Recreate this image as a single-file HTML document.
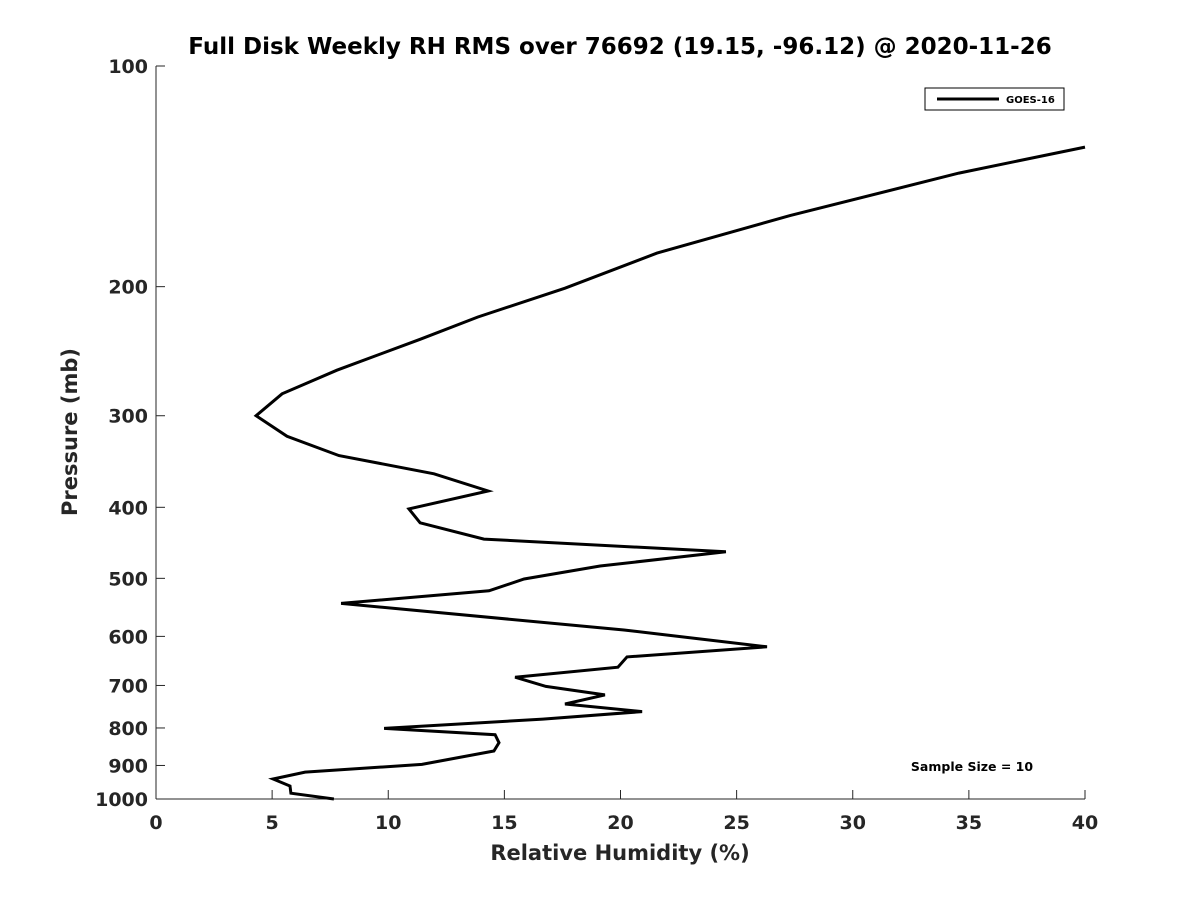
<!DOCTYPE html>
<html><head><meta charset="utf-8"><style>
body{margin:0;background:#fff;width:1200px;height:900px;overflow:hidden}
text{font-family:"DejaVu Sans","Liberation Sans",sans-serif;font-weight:bold}
</style></head><body>
<svg id="chart" width="1200" height="900" xmlns="http://www.w3.org/2000/svg">
<rect width="1200" height="900" fill="#fff"/>
<text x="620" y="54" text-anchor="middle" font-size="23" fill="#000">Full Disk Weekly RH RMS over 76692 (19.15, -96.12) @ 2020-11-26</text>
<g id="axes"></g>
<polyline id="series" fill="none" stroke="#000" stroke-width="3" stroke-linejoin="miter"/>
<g>
<rect x="925" y="88" width="139" height="22" fill="#fff" stroke="#000" stroke-width="1"/>
<line x1="937" y1="99" x2="999" y2="99" stroke="#000" stroke-width="3"/>
<text x="1006" y="103" font-size="10" fill="#000">GOES-16</text>
</g>
<text x="972" y="771" text-anchor="middle" font-size="12.5" fill="#000">Sample Size = 10</text>
<text x="620" y="860" text-anchor="middle" font-size="21" fill="#262626">Relative Humidity (%)</text>
<text transform="translate(77,432) rotate(-90)" text-anchor="middle" font-size="21" fill="#262626">Pressure (mb)</text>
</svg>
<script>
const rhValues=[40.0,34.57,27.3,21.57,17.61,13.86,11.37,7.79,5.43,4.31,5.64,7.88,11.97,14.30,10.89,11.37,14.12,24.54,19.12,15.85,14.34,7.97,20.15,26.31,20.28,19.89,15.46,16.79,19.33,17.61,20.93,16.66,9.82,14.60,14.77,14.55,11.45,6.42,5.04,5.77,5.81,7.66];
const pressures=[129,140,160,180,201,220,236,260,280,300,320,340,360,380,402,420,442,460,481,501,520,541,588,620,640,661,682,702,721,742,760,778,801,817,838,860,897,919,939,960,982,1000];
const xTicks=[0,5,10,15,20,25,30,35,40];
const yTicks=[100,200,300,400,500,600,700,800,900,1000];
const X0=156,X1=1085,Y0=66,Y1=799;
function xs(v){return X0+(v-0)/(40-0)*(X1-X0);}
function ys(p){return Y0+Math.log10(p/100)*(Y1-Y0);}
const NS="http://www.w3.org/2000/svg";
const ax=document.getElementById('axes');
function mk(t,a){const e=document.createElementNS(NS,t);for(const k in a)e.setAttribute(k,a[k]);ax.appendChild(e);return e;}
let l=mk('line',{x1:X0,y1:Y0,x2:X0,y2:Y1,stroke:'#262626','stroke-width':1});


l=mk('line',{x1:X0,y1:Y1,x2:X1,y2:Y1,stroke:'#262626','stroke-width':1});


xTicks.forEach(v=>{const x=xs(v);
 mk('line',{x1:x,y1:Y1,x2:x,y2:Y1-9,stroke:'#262626','stroke-width':1});
 const t=mk('text',{x:x,y:829,'text-anchor':'middle','font-size':19,fill:'#262626'});t.textContent=v;
 
 
});
yTicks.forEach(p=>{const y=ys(p);
 mk('line',{x1:X0,y1:y,x2:X0+9,y2:y,stroke:'#262626','stroke-width':1});
 const t=mk('text',{x:148,y:y+7,'text-anchor':'end','font-size':19,fill:'#262626'});t.textContent=p;
 
 
});
document.getElementById('series').setAttribute('points',rhValues.map((v,i)=>xs(v).toFixed(1)+','+ys(pressures[i]).toFixed(1)).join(' '));
</script>
</body></html>
